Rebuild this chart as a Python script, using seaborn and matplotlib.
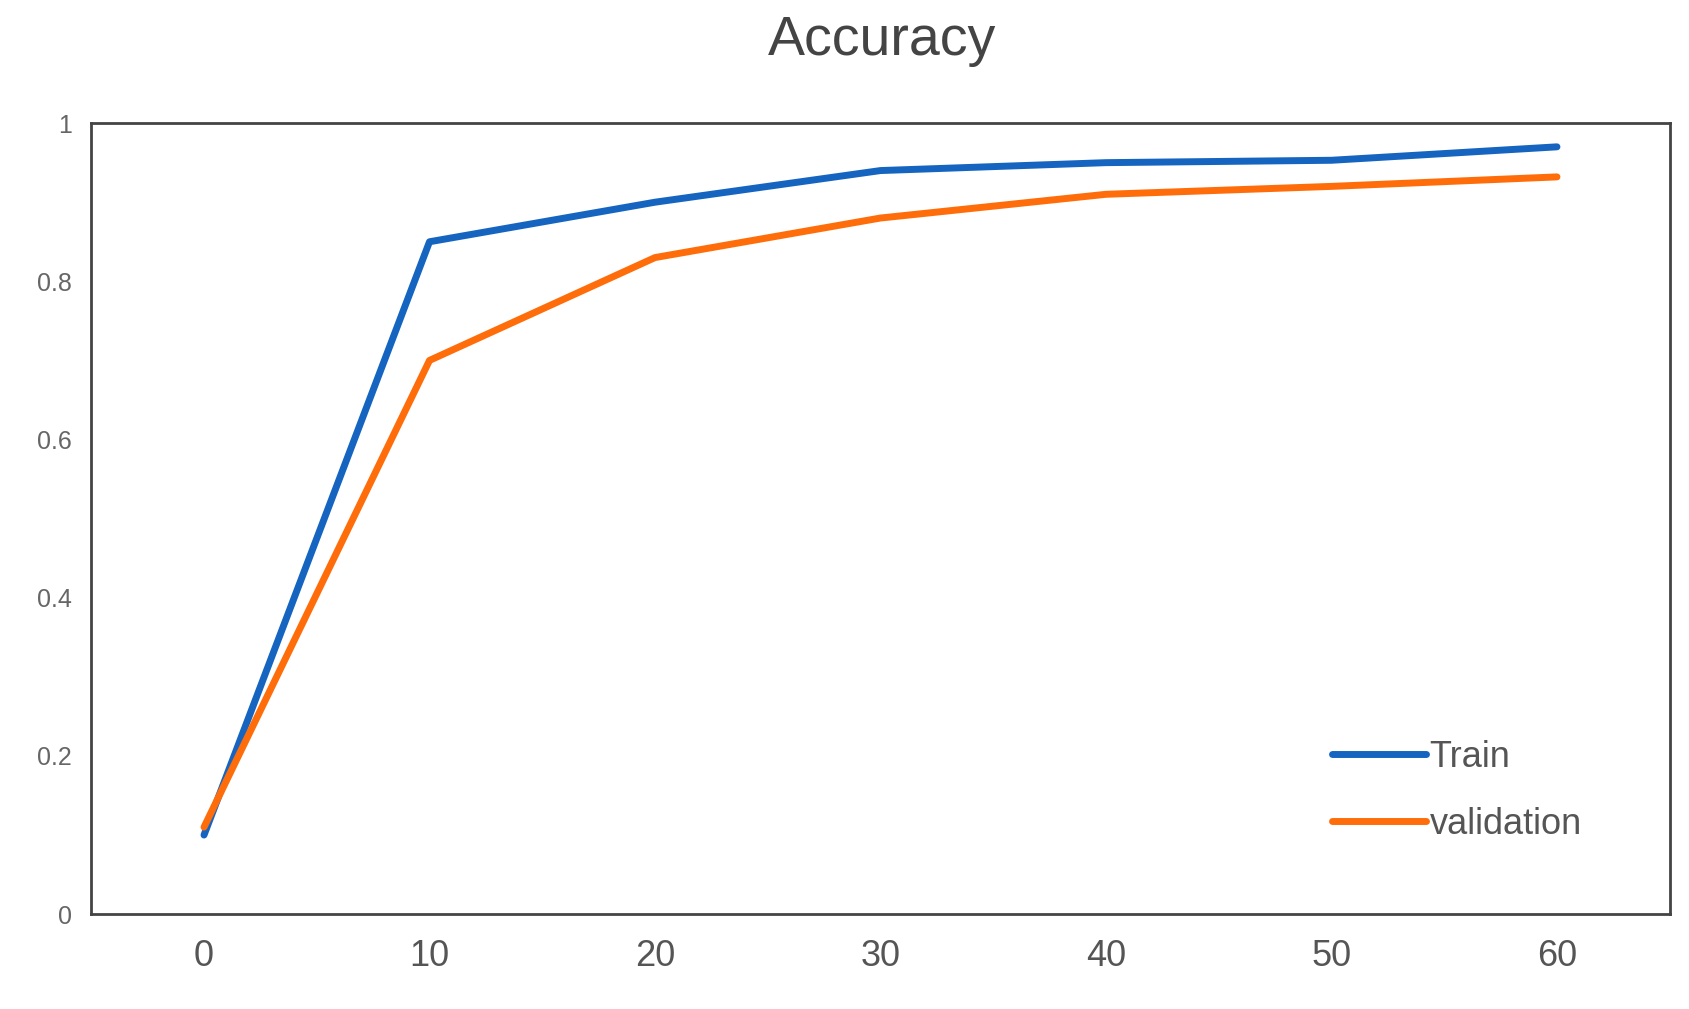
import matplotlib
matplotlib.use("Agg")
import matplotlib.pyplot as plt
import seaborn as sns
import pandas as pd

epochs = [0, 10, 20, 30, 40, 50, 60]
train_acc = [0.10, 0.85, 0.90, 0.94, 0.95, 0.953, 0.97]
val_acc = [0.11, 0.70, 0.83, 0.88, 0.91, 0.92, 0.932]

df = pd.DataFrame({"epoch": epochs * 2,
                   "acc": train_acc + val_acc,
                   "series": ["Train"] * 7 + ["validation"] * 7})

sns.set_style("white")
plt.rcParams['font.family'] = ['Liberation Sans', 'DejaVu Sans']

fig = plt.figure(figsize=(16.9, 10.09), dpi=100)
ax = fig.add_axes([0.054, 0.094, 0.934, 0.784])
sns.lineplot(data=df, x="epoch", y="acc", hue="series",
             palette=["#1565c0", "#ff6d0a"], linewidth=5, ax=ax)

ax.set_xlim(-5, 65)
ax.set_ylim(0, 1)
ax.set_xticks(epochs)
ax.set_yticks([0, 0.2, 0.4, 0.6, 0.8, 1])
ax.set_yticklabels(["0", "0.2", "0.4", "0.6", "0.8", "1"])
ax.tick_params(axis="x", labelsize=26, colors="#555555", length=0, pad=18)
ax.tick_params(axis="y", labelsize=18, colors="#666666", length=0, pad=14)
ax.set_xlabel("")
ax.set_ylabel("")
for s in ax.spines.values():
    s.set_color("#444444")
    s.set_linewidth(2)

fig.suptitle("Accuracy", fontsize=40, color="#444444", x=0.522, y=0.985)
leg = ax.legend(loc="lower right", bbox_to_anchor=(0.965, 0.05), frameon=False,
                fontsize=26, handlelength=2.6, handletextpad=0.1, labelspacing=0.9)
for t in leg.get_texts():
    t.set_color("#555555")

fig.savefig("out.png")
